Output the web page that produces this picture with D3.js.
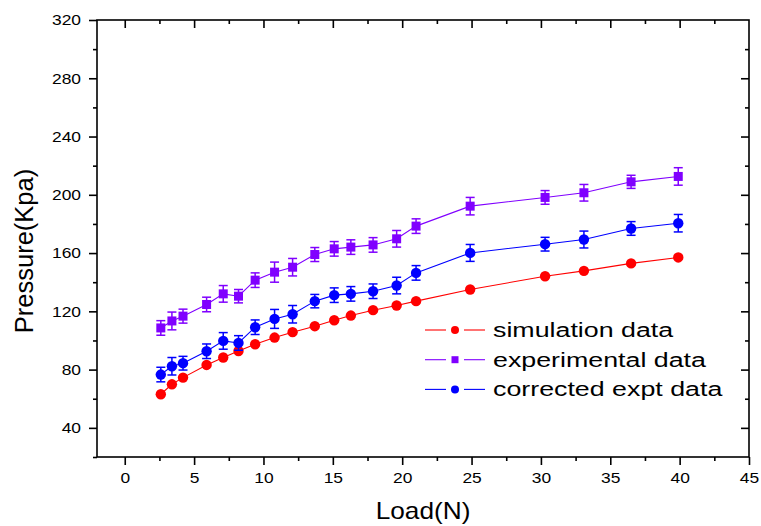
<!DOCTYPE html>
<html>
<head>
<meta charset="utf-8">
<script src="https://cdn.jsdelivr.net/npm/d3@7"></script>
<style>
  html, body { margin: 0; padding: 0; background: #fff; }
  svg { display: block; font-family: "Liberation Sans", Arial, sans-serif; }
</style>
</head>
<body>
<svg id="chart" width="761" height="526"></svg>
<script>
// Applied load (N)
const load = [2.6, 3.4, 4.2, 5.9, 7.1, 8.2, 9.4, 10.8, 12.1, 13.7, 15.1, 16.3, 17.9, 19.6, 21.0, 24.9, 30.3, 33.1, 36.5, 39.9];
// Pressure (kPa) per series
const simulation = [63.1, 69.9, 74.5, 83.2, 88.3, 92.8, 97.4, 102.0, 105.7, 109.8, 113.9, 117.1, 120.8, 124.0, 127.0, 135.0, 144.1, 147.8, 152.9, 157.0];
const experimental = [108.6, 113.4, 116.7, 124.7, 132.0, 130.4, 141.4, 146.9, 150.3, 159.0, 162.9, 164.1, 165.6, 169.8, 178.5, 192.2, 198.2, 201.4, 208.9, 212.6];
const experimentalErr = [5.0, 6.1, 4.8, 5.0, 5.7, 4.6, 5.0, 6.9, 6.0, 4.8, 5.0, 5.0, 5.0, 5.7, 5.0, 6.0, 4.7, 5.7, 4.5, 6.0];
const corrected = [76.6, 82.3, 84.4, 92.6, 99.7, 98.3, 109.1, 114.8, 118.0, 127.0, 131.1, 132.0, 133.8, 137.7, 146.4, 160.1, 166.1, 169.3, 176.9, 180.5];
const correctedErr = [5.0, 6.0, 4.7, 5.0, 5.7, 5.0, 5.0, 6.5, 6.0, 4.6, 5.0, 5.0, 5.0, 5.7, 5.0, 5.8, 4.7, 5.8, 4.7, 6.0];
// Legend labels
const seriesNames = ["simulation data", "experimental data", "corrected expt data"];
// Axis ticks
const xTicks = [0, 5, 10, 15, 20, 25, 30, 35, 40, 45];
const xMinorTicks = [2.5, 7.5, 12.5, 17.5, 22.5, 27.5, 32.5, 37.5, 42.5];
const yTicks = [40, 80, 120, 160, 200, 240, 280, 320];
const yMinorTicks = [20, 60, 100, 140, 180, 220, 260, 300];

const svg = d3.select("#chart");
const plotLeft = 97, plotRight = 749, plotTop = 20, plotBottom = 457;

const x = d3.scaleLinear().domain([-2, 45]).range([plotLeft, plotRight]);
const y = d3.scaleLinear().domain([20, 320]).range([plotBottom, plotTop]);

const colors = { sim: "#ff0000", exp: "#8000ff", cor: "#0000ff" };

// ---- axes frame with ticks ----
const axisStroke = 1.6;
function styleAxis(g) {
  g.select(".domain").remove();
  g.selectAll(".tick line").attr("stroke", "#000").attr("stroke-width", axisStroke);
}
const labelScale = 1.16;

// bottom (outward) major + minor
svg.append("g").attr("transform", `translate(0,${plotBottom})`)
  .call(d3.axisBottom(x).tickValues(xMinorTicks).tickSize(4).tickFormat(""))
  .call(styleAxis);
const xAxisG = svg.append("g").attr("transform", `translate(0,${plotBottom})`)
  .call(d3.axisBottom(x).tickValues(xTicks).tickSize(8).tickPadding(7).tickFormat(d3.format("d")))
  .call(styleAxis);
xAxisG.selectAll(".tick text")
  .attr("font-size", 15).attr("fill", "#000")
  .attr("font-family", "Liberation Sans, Arial, sans-serif")
  .attr("transform", `scale(${labelScale},1)`);

// left (outward)
svg.append("g").attr("transform", `translate(${plotLeft},0)`)
  .call(d3.axisLeft(y).tickValues(yMinorTicks).tickSize(4).tickFormat(""))
  .call(styleAxis);
const yAxisG = svg.append("g").attr("transform", `translate(${plotLeft},0)`)
  .call(d3.axisLeft(y).tickValues(yTicks).tickSize(8).tickPadding(8).tickFormat(d3.format("d")))
  .call(styleAxis);
yAxisG.selectAll(".tick text")
  .attr("font-size", 15).attr("fill", "#000")
  .attr("font-family", "Liberation Sans, Arial, sans-serif")
  .attr("transform", `scale(${labelScale},1)`)
  .attr("x", -16 / labelScale);

// top (inward)
svg.append("g").attr("transform", `translate(0,${plotTop})`)
  .call(d3.axisBottom(x).tickValues(xMinorTicks).tickSize(4).tickFormat(""))
  .call(styleAxis);
svg.append("g").attr("transform", `translate(0,${plotTop})`)
  .call(d3.axisBottom(x).tickValues(xTicks.filter(d => d < 45)).tickSize(8).tickFormat(""))
  .call(styleAxis);

// right (inward)
svg.append("g").attr("transform", `translate(${plotRight},0)`)
  .call(d3.axisLeft(y).tickValues(yMinorTicks.filter(d => d > 20)).tickSize(4).tickFormat(""))
  .call(styleAxis);
svg.append("g").attr("transform", `translate(${plotRight},0)`)
  .call(d3.axisLeft(y).tickValues(yTicks.filter(d => d < 320)).tickSize(8).tickFormat(""))
  .call(styleAxis);

// frame
svg.append("rect")
  .attr("x", plotLeft).attr("y", plotTop)
  .attr("width", plotRight - plotLeft).attr("height", plotBottom - plotTop)
  .attr("fill", "none").attr("stroke", "#000").attr("stroke-width", axisStroke);

// ---- axis titles ----
svg.append("text")
  .attr("transform", `translate(423,519) scale(1.14,1)`)
  .attr("text-anchor", "middle")
  .attr("font-size", 23).attr("fill", "#000")
  .text("Load(N)");
svg.append("text")
  .attr("transform", `translate(33,251) rotate(-90)`)
  .attr("text-anchor", "middle")
  .attr("font-size", 25.5).attr("fill", "#000")
  .text("Pressure(Kpa)");

// ---- series ----
const line = d3.line().x(d => x(d[0])).y(d => y(d[1]));
const zip = (vals) => load.map((l, i) => [l, vals[i]]);

function drawLine(vals, color) {
  svg.append("path").datum(zip(vals))
    .attr("d", line).attr("fill", "none")
    .attr("stroke", color).attr("stroke-width", 1.1);
}
function drawErrors(vals, errs, color) {
  const g = svg.append("g").attr("stroke", color).attr("stroke-width", 1.5);
  load.forEach((l, i) => {
    const cx = x(l), y0 = y(vals[i] - errs[i]), y1 = y(vals[i] + errs[i]);
    g.append("line").attr("x1", cx).attr("x2", cx).attr("y1", y0).attr("y2", y1);
    g.append("line").attr("x1", cx - 4.5).attr("x2", cx + 4.5).attr("y1", y0).attr("y2", y0);
    g.append("line").attr("x1", cx - 4.5).attr("x2", cx + 4.5).attr("y1", y1).attr("y2", y1);
  });
}

// simulation
drawLine(simulation, colors.sim);
svg.append("g").selectAll("circle").data(zip(simulation)).join("circle")
  .attr("cx", d => x(d[0])).attr("cy", d => y(d[1])).attr("r", 5.2)
  .attr("fill", colors.sim);

// experimental
drawLine(experimental, colors.exp);
drawErrors(experimental, experimentalErr, colors.exp);
svg.append("g").selectAll("rect").data(zip(experimental)).join("rect")
  .attr("x", d => x(d[0]) - 4.5).attr("y", d => y(d[1]) - 4.5)
  .attr("width", 9).attr("height", 9)
  .attr("fill", colors.exp);

// corrected
drawLine(corrected, colors.cor);
drawErrors(corrected, correctedErr, colors.cor);
svg.append("g").selectAll("circle").data(zip(corrected)).join("circle")
  .attr("cx", d => x(d[0])).attr("cy", d => y(d[1])).attr("r", 5.2)
  .attr("fill", colors.cor);

// ---- legend ----
const legendRows = [
  { name: seriesNames[0], color: colors.sim, shape: "circle" },
  { name: seriesNames[1], color: colors.exp, shape: "square" },
  { name: seriesNames[2], color: colors.cor, shape: "circle" }
];
const legend = svg.append("g");
legendRows.forEach((r, i) => {
  const cy = 330 + i * 29.7;
  const g = legend.append("g");
  g.append("line").attr("x1", 425).attr("x2", 446).attr("y1", cy).attr("y2", cy)
    .attr("stroke", r.color).attr("stroke-width", 1.1);
  g.append("line").attr("x1", 464).attr("x2", 485).attr("y1", cy).attr("y2", cy)
    .attr("stroke", r.color).attr("stroke-width", 1.1);
  if (r.shape === "circle") {
    g.append("circle").attr("cx", 455).attr("cy", cy).attr("r", 4).attr("fill", r.color);
  } else {
    g.append("rect").attr("x", 451.5).attr("y", cy - 3.5).attr("width", 7).attr("height", 7).attr("fill", r.color);
  }
  g.append("text")
    .attr("transform", `translate(493,${cy + 7}) scale(1.276,1)`)
    .attr("font-size", 21).attr("fill", "#000")
    .text(r.name);
});
</script>
</body>
</html>
